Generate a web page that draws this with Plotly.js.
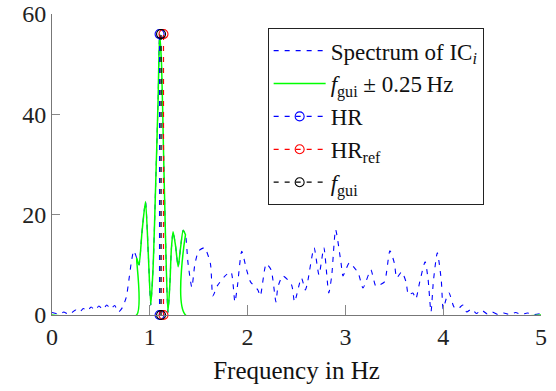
<!DOCTYPE html>
<html>
<head>
<meta charset="utf-8">
<script src="https://cdn.plot.ly/plotly-3.0.1.min.js"></script>
<style>html,body{margin:0;padding:0;background:#fff;}#chart{width:556px;height:391px;}</style>
</head>
<body>
<div id="chart"></div>
<script>
// Spectrum of IC_i (frequency in Hz, amplitude)
const freq = [0.00,0.04,0.08,0.12,0.16,0.20,0.24,0.28,0.32,0.36,0.40,0.44,0.48,0.52,0.56,0.60,0.64,0.68,0.72,0.76,0.785,0.81,0.836,0.867,0.89,0.92,0.956,0.985,1.01,1.035,1.06,1.085,1.10,1.12,1.14,1.16,1.185,1.205,1.22,1.238,1.262,1.29,1.315,1.341,1.365,1.39,1.43,1.46,1.50,1.56,1.62,1.645,1.69,1.77,1.83,1.87,1.895,1.94,1.99,2.03,2.105,2.13,2.19,2.24,2.29,2.31,2.36,2.45,2.48,2.55,2.59,2.61,2.68,2.73,2.78,2.83,2.86,2.90,2.955,2.975,3.00,3.04,3.13,3.18,3.26,3.31,3.35,3.40,3.455,3.50,3.525,3.575,3.62,3.645,3.69,3.72,3.76,3.815,3.845,3.875,3.90,3.94,3.98,4.00,4.03,4.06,4.11,4.15,4.20,4.24,4.29,4.34,4.39,4.45,4.50,4.56,4.62,4.68,4.74,4.80,4.86,4.92,5.00];
const amp  = [0.5,0.3,0.1,0.6,0.2,0.4,1.0,0.5,1.3,0.8,1.6,1.0,1.8,1.1,2.0,1.2,1.9,0.6,1.5,3.6,6.8,10.4,12.8,11.3,10.0,16.5,22.6,12.0,2.0,10.0,26.0,43.0,56.0,50.0,33.0,16.0,0.5,6.0,13.0,16.6,14.0,9.6,13.5,16.9,16.0,10.5,5.5,10.0,12.8,13.4,10.2,3.8,5.8,7.8,8.6,2.6,5.6,12.7,9.0,6.6,5.0,3.8,10.2,9.0,2.6,5.6,7.8,6.0,2.6,7.4,5.0,6.2,13.4,8.0,13.4,4.4,7.8,17.0,10.4,7.8,8.8,10.4,8.4,5.4,9.0,5.8,6.0,6.6,12.8,10.4,7.4,8.6,6.6,4.0,4.4,3.2,6.6,10.6,7.2,0.6,6.8,12.4,7.0,1.2,3.2,4.4,1.6,1.2,2.0,0.6,1.2,0.3,1.0,0.2,0.6,0.1,0.4,0.1,0.5,0.1,0.4,0.1,0.3];

// Frequencies of the vertical markers (Hz)
const HR = 1.10;
const HRref = 1.14;
const fGui = 1.115;
const halfWidth = 0.25;

// Windowed spectrum (f_gui ± 0.25 Hz)
const lo = fGui - halfWidth, hi = fGui + halfWidth;
const gx = [0, lo], gy = [0, 0];
const inside = freq.map((f,i)=>[f,amp[i]]).filter(p=>p[0]>=lo && p[0]<=hi);
gx.push(lo); gy.push(inside[0][1]);
inside.forEach(p=>{gx.push(p[0]); gy.push(p[1]);});
gx.push(hi, hi, 5); gy.push(inside[inside.length-1][1], 0, 0);

const peak = Math.max(...amp);
const serif = 'Liberation Serif';
const dash = '5px,6px';

function vline(x, color, name){
  return {x:[x,x], y:[0,peak], mode:'lines+markers', name:name,
    line:{color:color, width:1.2, dash:dash},
    marker:{symbol:'circle-open', size:9, color:color, line:{width:1.1}},
    cliponaxis:false};
}

const data = [
  {x:freq, y:amp, mode:'lines', name:'Spectrum of IC<sub><i>i</i></sub>',
   line:{color:'rgb(0,0,255)', width:1.1, dash:dash, shape:'spline', smoothing:0.6}},
  {x:gx, y:gy, mode:'lines', name:'<i>f</i><sub>gui</sub> ± 0.25\u2009Hz',
   line:{color:'rgb(0,255,0)', width:1.5, shape:'spline', smoothing:0.6}, cliponaxis:false},
  vline(HR, 'rgb(0,0,255)', 'HR'),
  vline(HRref, 'rgb(255,0,0)', 'HR<sub>ref</sub>'),
  vline(fGui, 'rgb(0,0,0)', '<i>f</i><sub>gui</sub>')
];

const layout = {
  width:556, height:391,
  margin:{l:52, r:15, t:14, b:76},
  paper_bgcolor:'#fff', plot_bgcolor:'#fff',
  font:{family:serif, size:24, color:'#222'},
  showlegend:true,
  legend:{x:0.441, y:0.953, xanchor:'left', yanchor:'top',
    bgcolor:'#fff', bordercolor:'#222', borderwidth:1,
    font:{family:serif, size:23, color:'#111'}, itemwidth:52},
  xaxis:{range:[0,5], tickvals:[0,1,2,3,4,5], ticks:'inside', ticklen:10,
    tickcolor:'#888', showline:true, linecolor:'#777', linewidth:1,
    showgrid:false, zeroline:false, mirror:false,
    title:{text:'Frequency in Hz', font:{family:serif, size:25, color:'#111'}, standoff:12},
    tickfont:{family:serif, size:24, color:'#222'}},
  yaxis:{range:[0,60], tickvals:[0,20,40,60], ticks:'inside', ticklen:8,
    tickcolor:'#888', showline:true, linecolor:'#777', linewidth:1,
    showgrid:false, zeroline:false, mirror:false,
    tickfont:{family:serif, size:24, color:'#222'}}
};

Plotly.newPlot('chart', data, layout, {staticPlot:true, displayModeBar:false});
</script>
</body>
</html>
